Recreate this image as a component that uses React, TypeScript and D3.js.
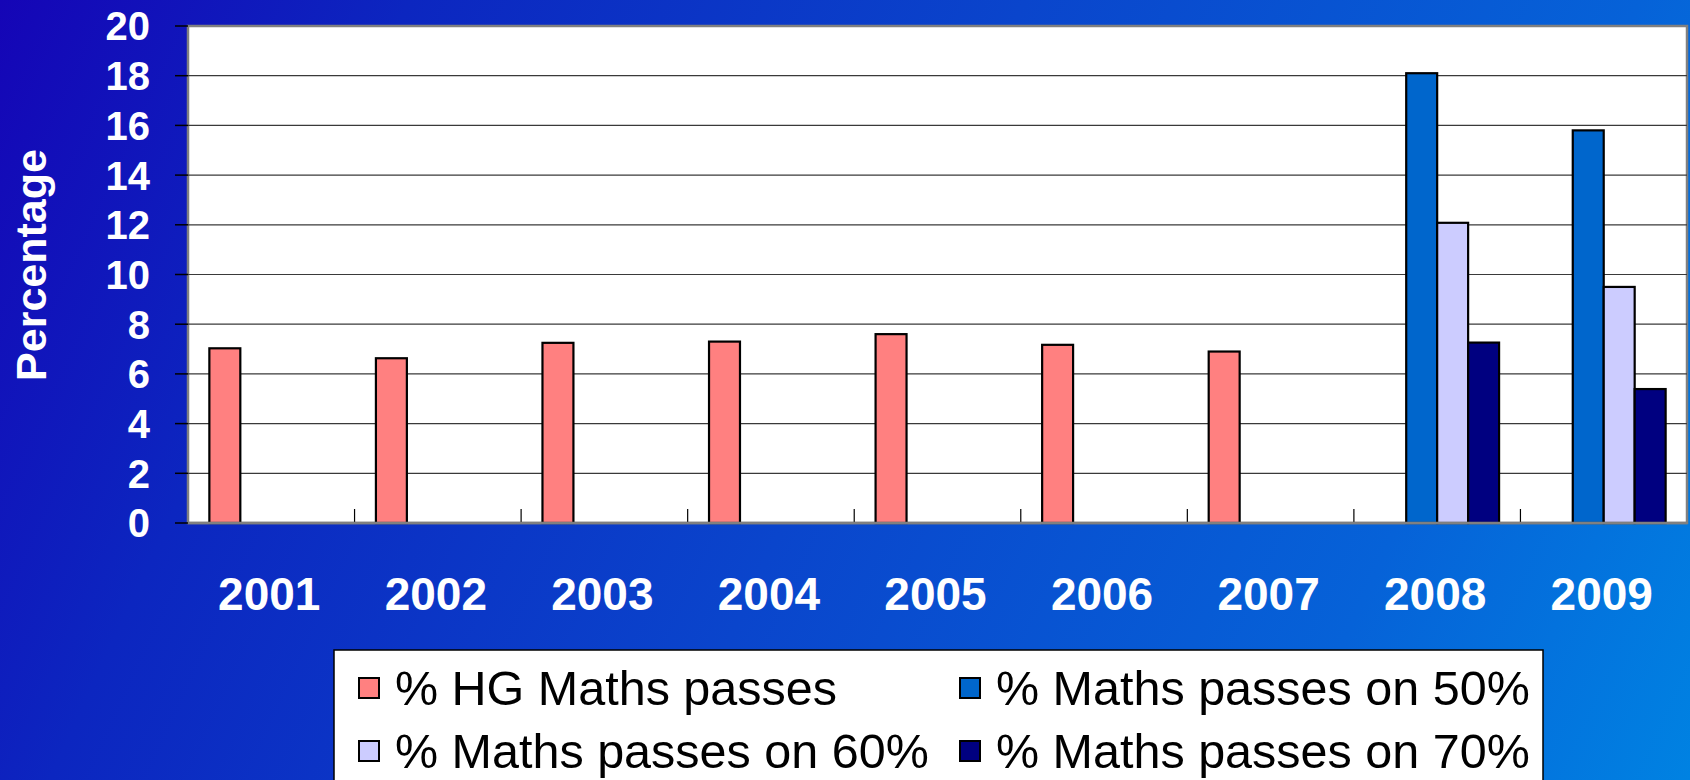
import React from 'react';
import * as d3 from 'd3';

const years = ['2001', '2002', '2003', '2004', '2005', '2006', '2007', '2008', '2009'];
const seriesNames = [
  '% HG Maths passes',
  '% Maths passes on 50%',
  '% Maths passes on 60%',
  '% Maths passes on 70%',
];
const hgPasses = [7.03, 6.63, 7.25, 7.3, 7.6, 7.17, 6.9, 0, 0];
const passes50 = [0, 0, 0, 0, 0, 0, 0, 18.1, 15.8];
const passes60 = [0, 0, 0, 0, 0, 0, 0, 12.08, 9.5];
const passes70 = [0, 0, 0, 0, 0, 0, 0, 7.26, 5.39];
const yTicks = [0, 2, 4, 6, 8, 10, 12, 14, 16, 18, 20];
const colors = ['#FF8080', '#0066CC', '#CCCCFF', '#000080'];

const W = 1690;
const H = 780;
const margin = { top: 26, right: 3, bottom: 257, left: 188 };

export default function App() {
  const allSeries = [hgPasses, passes50, passes60, passes70];

  const x = d3.scaleBand<string>()
    .domain(years)
    .range([margin.left, W - margin.right])
    .paddingInner(0)
    .paddingOuter(0);

  const xInner = d3.scaleBand<number>()
    .domain(d3.range(seriesNames.length))
    .range([0, x.bandwidth()])
    .paddingInner(0)
    .paddingOuter(0.69);

  const y = d3.scaleLinear()
    .domain([0, 20])
    .range([H - margin.bottom, margin.top]);

  const plotW = W - margin.right - margin.left;
  const font = 'Arial, "Liberation Sans", sans-serif';

  // legend placement
  const legendRows = [688, 751];
  const legendCols = [359, 960];

  return (
    <svg width={W} height={H} style={{ position: 'fixed', left: 0, top: 0 }} fontFamily={font}>
      <defs>
        <linearGradient id="bg" gradientUnits="userSpaceOnUse" x1={0} y1={0} x2={W} y2={H}>
          <stop offset="0%" stopColor="#1505b6" />
          <stop offset="20%" stopColor="#0c26c0" />
          <stop offset="50%" stopColor="#0a45cc" />
          <stop offset="80%" stopColor="#0662d8" />
          <stop offset="100%" stopColor="#0082e2" />
        </linearGradient>
      </defs>
      <rect x={0} y={0} width={W} height={H} fill="url(#bg)" />

      {/* plot area */}
      <rect x={margin.left} y={margin.top} width={plotW} height={y(0) - margin.top}
        fill="#ffffff" stroke="#808080" strokeWidth={2.5} />

      {/* gridlines */}
      {yTicks.filter(t => t > 0 && t < 20).map(t => (
        <line key={'g' + t} x1={margin.left} x2={W - margin.right} y1={y(t)} y2={y(t)}
          stroke="#3a3a3a" strokeWidth={1.2} />
      ))}

      {/* y ticks and labels */}
      {yTicks.map(t => (
        <g key={'t' + t}>
          <line x1={margin.left - 13} x2={margin.left} y1={y(t)} y2={y(t)} stroke="#000" strokeWidth={1.5} />
          <text x={150} y={y(t)} dy="0.36em" textAnchor="end" fill="#fff" fontSize={40} fontWeight="bold">{t}</text>
        </g>
      ))}

      {/* x ticks inside */}
      {years.slice(1).map(yr => (
        <line key={'xt' + yr} x1={x(yr)!} x2={x(yr)!} y1={y(0)} y2={y(0) - 14} stroke="#000" strokeWidth={1.2} />
      ))}

      {/* bars */}
      {years.map((yr, i) => (
        <g key={yr} transform={`translate(${x(yr)},0)`}>
          {allSeries.map((s, si) => s[i] > 0 ? (
            <rect key={si} x={xInner(si)} y={y(s[i])} width={xInner.bandwidth()} height={y(0) - y(s[i])}
              fill={colors[si]} stroke="#000" strokeWidth={2.2} />
          ) : null)}
        </g>
      ))}

      {/* x axis line */}
      <line x1={margin.left} x2={W - margin.right} y1={y(0)} y2={y(0)} stroke="#808080" strokeWidth={2.5} />

      {/* x labels */}
      {years.map(yr => (
        <text key={'xl' + yr} x={x(yr)! + x.bandwidth() / 2 - 2} y={610} textAnchor="middle"
          fill="#fff" fontSize={46} fontWeight="bold">{yr}</text>
      ))}

      {/* y axis title */}
      <text transform="translate(46,265) rotate(-90)" textAnchor="middle" fill="#fff"
        fontSize={43} fontWeight="bold">Percentage</text>

      {/* legend */}
      <rect x={334} y={650} width={1209} height={140} fill="#fff" stroke="#000" strokeWidth={1.5} />
      {seriesNames.map((name, i) => {
        const cx = legendCols[i % 2];
        const cy = legendRows[Math.floor(i / 2)];
        return (
          <g key={name}>
            <rect x={cx} y={cy - 10} width={20} height={20} fill={colors[i]} stroke="#000" strokeWidth={2} />
            <text x={cx + 36} y={cy} dy="0.36em" fill="#000" fontSize={48.5}>{name}</text>
          </g>
        );
      })}
    </svg>
  );
}
